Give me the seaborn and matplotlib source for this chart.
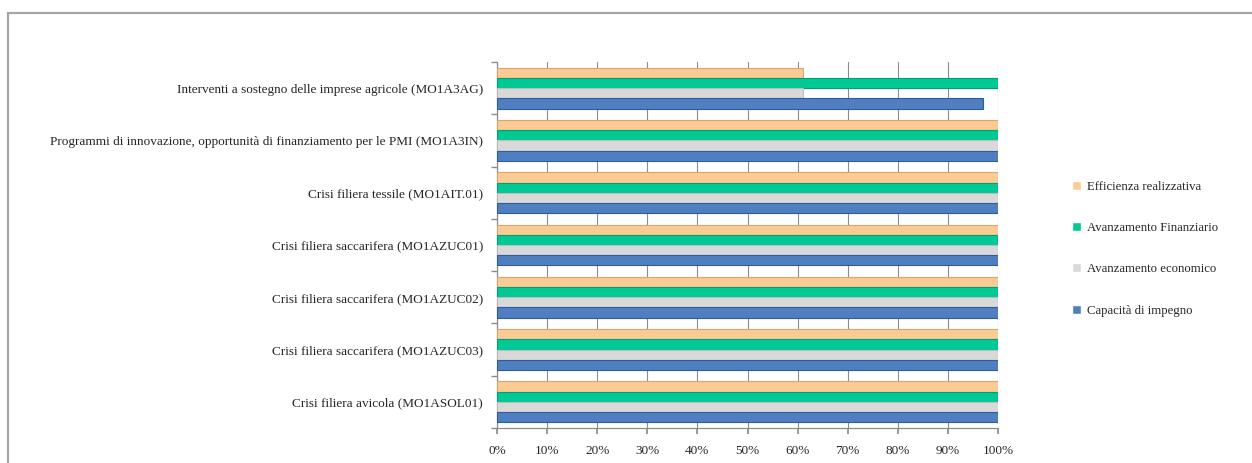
import matplotlib
matplotlib.use("Agg")
import matplotlib.pyplot as plt
from matplotlib.patches import Rectangle
from matplotlib.ticker import FixedLocator, PercentFormatter
import seaborn as sns
import pandas as pd

categories = [
    "Interventi a sostegno delle imprese agricole (MO1A3AG)",
    "Programmi di innovazione, opportunità di finanziamento per le PMI (MO1A3IN)",
    "Crisi filiera tessile (MO1AIT.01)",
    "Crisi filiera saccarifera (MO1AZUC01)",
    "Crisi filiera saccarifera (MO1AZUC02)",
    "Crisi filiera saccarifera (MO1AZUC03)",
    "Crisi filiera avicola (MO1ASOL01)",
]
series = [
    "Efficienza realizzativa",
    "Avanzamento Finanziario",
    "Avanzamento economico",
    "Capacità di impegno",
]
efficienza = [61, 100, 100, 100, 100, 100, 100]
finanziario = [100, 100, 100, 100, 100, 100, 100]
economico = [61, 100, 100, 100, 100, 100, 100]
capacita = [97, 100, 100, 100, 100, 100, 100]

colors = ["#FCCB93", "#00C995", "#D9D9D9", "#4F7FC1"]
edges = ["#D8A66E", "#00A077", "#BDBDBD", "#2F5C9A"]

values = [efficienza, finanziario, economico, capacita]
rows = []
for name, vals in zip(series, values):
    for cat, v in zip(categories, vals):
        rows.append({"Categoria": cat, "Serie": name, "Valore": v})
df = pd.DataFrame(rows)

sns.set_theme(style="white")
plt.rcParams["font.family"] = ["Liberation Serif", "DejaVu Serif"]

fig = plt.figure(figsize=(12.52, 4.63), dpi=100)
ax = fig.add_axes([497 / 1252, 1 - 428 / 463, 501 / 1252, 366 / 463])

sns.barplot(
    data=df, y="Categoria", x="Valore", hue="Serie",
    order=categories, hue_order=series, palette=colors, saturation=1,
    orient="h", width=0.78, ax=ax, legend=True, zorder=3,
)

for container, ec in zip(ax.containers, edges):
    for bar in container:
        bar.set_edgecolor(ec)
        bar.set_linewidth(0.8)

ax.set_xlim(0, 100)
ax.set_ylim(len(categories) - 0.5, -0.5)
ax.xaxis.set_major_locator(FixedLocator(range(0, 101, 10)))
ax.xaxis.set_major_formatter(PercentFormatter(decimals=0))
ax.grid(axis="x", color="#8C8C8C", linewidth=0.8, zorder=0)
ax.set_axisbelow(True)

ax.yaxis.set_minor_locator(FixedLocator([i - 0.5 for i in range(len(categories) + 1)]))
ax.tick_params(axis="y", which="major", length=0, pad=10, labelsize=9.5, labelcolor="#262626")
ax.tick_params(axis="y", which="minor", length=4, color="#8C8C8C", left=True)
ax.tick_params(axis="x", which="major", length=4, color="#8C8C8C", bottom=True,
               labelsize=9.5, labelcolor="#262626", pad=8)

for side in ["top", "right"]:
    ax.spines[side].set_visible(False)
for side in ["left", "bottom"]:
    ax.spines[side].set_color("#8C8C8C")
    ax.spines[side].set_linewidth(0.9)

ax.set_xlabel("")
ax.set_ylabel("")

handles, labels = ax.get_legend_handles_labels()
ax.legend(
    handles, labels, loc="center left", bbox_to_anchor=(1.125, 0.49),
    frameon=False, fontsize=9.2, handlelength=0.7, handleheight=0.7,
    handletextpad=0.5, labelspacing=2.3,
)

# outer chart frame
fig.patches.append(Rectangle((8 / 1252, -0.1), 1.2, 1 - 13 / 463 + 0.1,
                             transform=fig.transFigure, fill=False,
                             edgecolor="#A6A6A6", linewidth=1.6))

fig.savefig("out.png", dpi=100)
